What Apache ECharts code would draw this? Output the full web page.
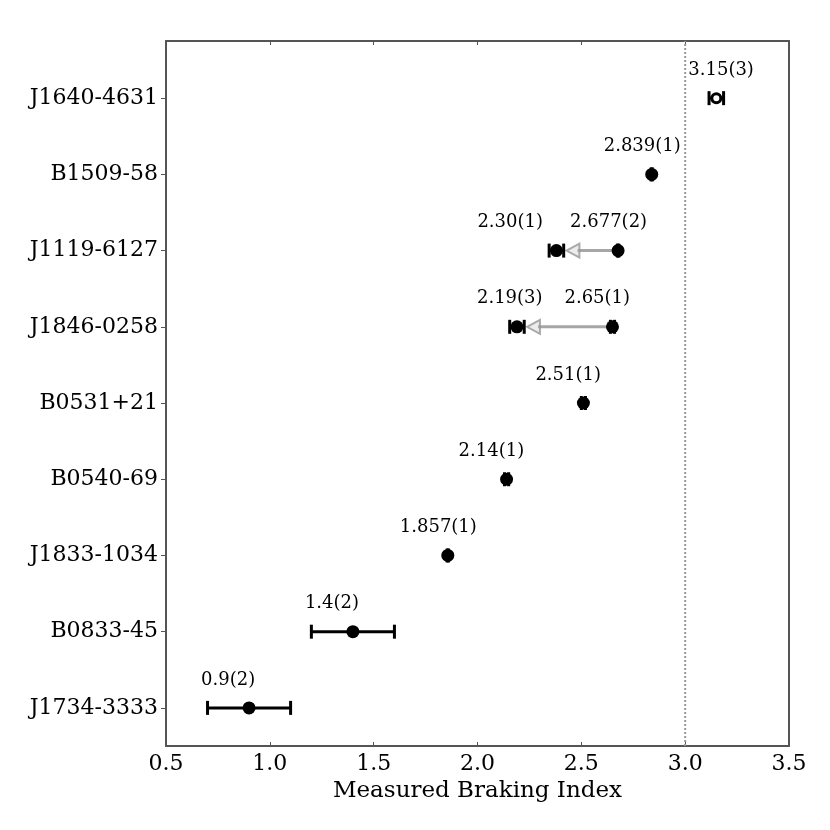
<!DOCTYPE html>
<html>
<head>
<meta charset="utf-8">
<script src="https://cdn.jsdelivr.net/npm/echarts@6/dist/echarts.min.js"></script>
<style>
html,body{margin:0;padding:0;background:#fff;}
#chart{width:830px;height:830px;}
</style>
</head>
<body>
<div id="chart"></div>
<script>
// Pulsars, bottom (index 0) to top (index 8)
const names = ['J1734-3333','B0833-45','J1833-1034','B0540-69','B0531+21','J1846-0258','J1119-6127','B1509-58','J1640-4631'];
const mainValues = [0.9, 1.4, 1.857, 2.14, 2.51, 2.65, 2.677, 2.839, 3.15];
const mainErrors = [0.2, 0.2, 0.003, 0.01, 0.01, 0.01, 0.003, 0.003, 0.035];
const mainLabels = ['0.9(2)','1.4(2)','1.857(1)','2.14(1)','2.51(1)','2.65(1)','2.677(2)','2.839(1)','3.15(3)'];
const hollowNames = ['J1640-4631'];
// Earlier measurements (square-ish markers) reached by the grey arrows
const prevNames = ['J1846-0258','J1119-6127'];
const prevValues = [2.19, 2.38];
const prevErrors = [0.035, 0.035];
const prevLabels = ['2.19(3)','2.30(1)'];
const xTicks = [0.5, 1.0, 1.5, 2.0, 2.5, 3.0, 3.5];
const refLine = 3.0;

// layout: horizontal label offsets (px, left edge relative to marker)
const mainLabelDx = {'3.15(3)': -28};
const prevLabelDx = {'2.19(3)': -40, '2.30(1)': -79};

const FONT = 'DejaVu Serif';
const yIdx = names.map((_, i) => i);

function errItem(params, api, labels, dxMap, hollowFlags) {
  const x = api.value(0), y = api.value(1), e = api.value(2);
  const c = api.coord([x, y]);
  const l = api.coord([x - e, y]);
  const r = api.coord([x + e, y]);
  const capH = 7;
  const lbl = labels[params.dataIndex];
  const dx = (dxMap[lbl] !== undefined) ? dxMap[lbl] : -48;
  const hollow = hollowFlags ? hollowFlags[params.dataIndex] : false;
  const st = {stroke: '#000', lineWidth: 3};
  return {
    type: 'group',
    children: [
      {type: 'line', shape: {x1: l[0], y1: c[1], x2: r[0], y2: c[1]}, style: st},
      {type: 'line', shape: {x1: l[0], y1: c[1] - capH, x2: l[0], y2: c[1] + capH}, style: st},
      {type: 'line', shape: {x1: r[0], y1: c[1] - capH, x2: r[0], y2: c[1] + capH}, style: st},
      {type: 'circle', shape: {cx: c[0], cy: c[1], r: hollow ? 4.5 : 6.5},
        style: hollow ? {fill: '#fff', stroke: '#000', lineWidth: 3} : {fill: '#000', stroke: '#000', lineWidth: 0}},
      {type: 'text', x: c[0] + dx, y: c[1] - 28,
        style: {text: lbl, fill: '#000', font: '18px "' + FONT + '"', align: 'left', verticalAlign: 'middle'}}
    ]
  };
}

const mainData = mainValues.map((v, i) => [v, yIdx[i], mainErrors[i]]);
const hollowFlags = names.map(n => hollowNames.indexOf(n) >= 0);
const prevData = prevValues.map((v, i) => [v, names.indexOf(prevNames[i]), prevErrors[i]]);
const arrowData = prevNames.map((n, i) => {
  const k = names.indexOf(n);
  return [mainValues[k], k, prevValues[i]];
});

const chart = echarts.init(document.getElementById('chart'), null, {renderer: 'canvas'});
const axisLineStyle = {color: '#555', width: 2};
chart.setOption({
  animation: false,
  backgroundColor: '#fff',
  grid: {left: 166, right: 41, top: 41, bottom: 84, containLabel: false},
  xAxis: [{
    type: 'value', min: 0.5, max: 3.5, interval: 0.5, position: 'bottom',
    name: 'Measured Braking Index', nameLocation: 'middle', nameGap: 32,
    nameTextStyle: {fontFamily: FONT, fontSize: 23, color: '#000'},
    axisLine: {show: true, onZero: false, lineStyle: axisLineStyle},
    axisTick: {show: true, inside: true, length: 4, lineStyle: {color: '#555', width: 1}},
    axisLabel: {fontFamily: FONT, fontSize: 22, color: '#000', margin: 7,
      formatter: v => v.toFixed(1)},
    splitLine: {show: false}
  }, {
    type: 'value', min: 0.5, max: 3.5, interval: 0.5, position: 'top',
    axisLine: {show: true, onZero: false, lineStyle: axisLineStyle},
    axisTick: {show: true, inside: true, length: 4, lineStyle: {color: '#555', width: 1}},
    axisLabel: {show: false}, splitLine: {show: false}
  }],
  yAxis: [{
    type: 'value', min: -0.5, max: 8.75, position: 'left',
    axisLine: {show: true, onZero: false, lineStyle: axisLineStyle},
    axisTick: {show: true, inside: false, length: 5, customValues: yIdx, lineStyle: {color: '#555', width: 1}},
    axisLabel: {fontFamily: FONT, fontSize: 22, color: '#000', margin: 8, customValues: yIdx,
      formatter: v => names[Math.round(v)] || ''},
    splitLine: {show: false}
  }, {
    type: 'value', min: -0.5, max: 8.75, position: 'right',
    axisLine: {show: true, onZero: false, lineStyle: axisLineStyle},
    axisTick: {show: false}, axisLabel: {show: false}, splitLine: {show: false}
  }],
  series: [
    {
      type: 'line', xAxisIndex: 0, yAxisIndex: 0, symbol: 'none', silent: true, z: 1,
      data: [[refLine, -0.5], [refLine, 8.75]],
      lineStyle: {color: '#999', width: 2, type: [2, 2]}
    },
    {
      type: 'custom', xAxisIndex: 0, yAxisIndex: 0, z: 2, silent: true,
      data: arrowData,
      renderItem: function (params, api) {
        const s = api.coord([api.value(0), api.value(1)]);
        const t = api.coord([api.value(2), api.value(1)]);
        const tipX = t[0] + 10, y = s[1];
        const headL = 13, headW = 7;
        return {
          type: 'group',
          children: [
            {type: 'line', shape: {x1: s[0], y1: y, x2: tipX + headL - 2, y2: y},
              style: {stroke: 'rgba(150,150,150,0.85)', lineWidth: 3}},
            {type: 'polygon', shape: {points: [[tipX, y], [tipX + headL, y - headW], [tipX + headL, y + headW]]},
              style: {fill: 'rgba(200,200,200,0.35)', stroke: 'rgba(150,150,150,0.8)', lineWidth: 2, lineJoin: 'miter'}}
          ]
        };
      }
    },
    {
      type: 'custom', xAxisIndex: 0, yAxisIndex: 0, z: 3, silent: true,
      data: prevData,
      renderItem: (params, api) => errItem(params, api, prevLabels, prevLabelDx, null)
    },
    {
      type: 'custom', xAxisIndex: 0, yAxisIndex: 0, z: 4, silent: true,
      data: mainData,
      renderItem: (params, api) => errItem(params, api, mainLabels, mainLabelDx, hollowFlags)
    }
  ]
});
</script>
</body>
</html>
